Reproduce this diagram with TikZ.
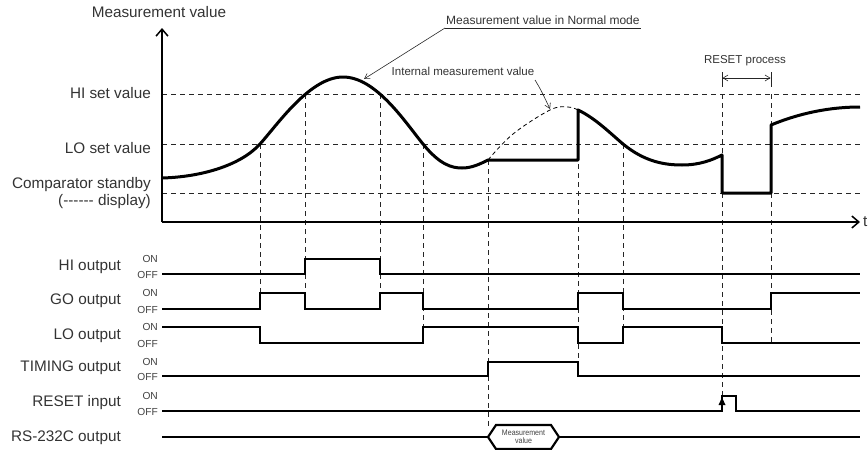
\documentclass[tikz,border=0pt]{standalone}
\usepackage{fontspec}
\setmainfont{Liberation Sans}
\usetikzlibrary{arrows.meta}
\newcommand{\hy}{\mbox{-}}
\begin{document}
\begin{tikzpicture}[x=1pt,y=-1pt,
  lbl/.style={font=\fontsize{15.3}{18}\selectfont, text=black!80, inner sep=0pt},
  rowlbl/.style={lbl, anchor=east},
  onoff/.style={font=\fontsize{10.2}{11}\selectfont, text=black!75, inner sep=0pt, anchor=east},
  note/.style={font=\fontsize{11.5}{13}\selectfont, text=black!80, inner sep=0pt},
  meas/.style={line width=3pt, line join=round},
  sig/.style={line width=2.2pt, line join=miter},
  guide/.style={line width=0.8pt, dash pattern=on 5pt off 4pt, black!85},
  axisarrow/.style={line width=1.8pt, -{Straight Barb[length=7pt,width=12pt,line width=1.5pt]}},
  thinline/.style={line width=0.6pt, black!85},
  thinarrow/.style={thinline, -{Straight Barb[length=5pt,width=6pt,line width=0.6pt]}},
]
\useasboundingbox (0,0) rectangle (868,450);

% ---------- labels of the upper graph
\node[lbl] (ylabel) at (159,12) {Measurement value};
\node[rowlbl] (hiset) at (151,93) {HI set value};
\node[rowlbl] (loset) at (151,148) {LO set value};
\node[rowlbl] (cstby) at (151,185) {Comparator standby};
\node[rowlbl] (cdisp) at (151,202) {(\hy\hy\hy\hy\hy\hy\ display)};
\node[lbl, anchor=west] (tlabel) at (863,222) {t};

% ---------- horizontal guides
\draw[guide] (162,94) -- (860,94);
\draw[guide] (162,144) -- (860,144);
\draw[guide] (162,193) -- (860,193);

% ---------- vertical guides
\draw[guide] (260,144) -- (260,309);
\draw[guide] (305,94) -- (305,309);
\draw[guide] (380,94) -- (380,309);
\draw[guide] (423,144) -- (423,343);
\draw[guide] (488,160) -- (488,428);
\draw[guide] (578,110) -- (578,376);
\draw[guide] (623,144) -- (623,343);
\draw[guide] (722,94) -- (722,398);
\draw[guide] (771,94) -- (771,343);

% ---------- axes
\coordinate (origin) at (162,222);
\coordinate (ytop) at (162,28);
\coordinate (xend) at (860,222);
\draw[axisarrow] (origin) -- (ytop);
\draw[axisarrow] (origin) -- (xend);

% ---------- internal measurement value (dashed)
\draw[line width=0.8pt, dash pattern=on 4pt off 3pt]
  plot[smooth, tension=0.6] coordinates {(488,160) (513,134) (550,110) (568,107) (578,110)};

% ---------- measurement curve
\draw[meas] (162,178) .. controls (200,177) and (240,166) .. (260,144)
  .. controls (278,124) and (310,77) .. (343,77)
  .. controls (376,77) and (405,122) .. (423,144)
  .. controls (440,165) and (452,168) .. (462,168)
  .. controls (472,168) and (480,164) .. (488,160)
  -- (578,160) -- (578,110)
  .. controls (595,118) and (610,133) .. (623,144)
  .. controls (645,162) and (665,165) .. (682,165)
  .. controls (700,165) and (712,160) .. (722,155)
  -- (722,193) -- (771,193) -- (771,125)
  .. controls (800,113) and (830,107) .. (860,107);

% ---------- annotations
\node[note, font=\fontsize{12}{13}\selectfont, anchor=base west] (normnote) at (446,24) {Measurement value in Normal mode};
\coordinate (nl) at (445,28);
\coordinate (nr) at (641,28);
\draw[thinline] (nl) -- (nr);
\draw[thinarrow] (nl) -- (364,79);

\node[note] (intnote) at (463,71) {Internal measurement value};
\draw[thinarrow] (535,80) .. controls (541,90) .. (550,109);

\node[note] (resetnote) at (745,61) {RESET process};
\draw[thinline] (722,72) -- (722,87);
\draw[thinline] (771,72) -- (771,87);
\draw[thinline, {Straight Barb[length=5pt,width=6pt,line width=0.6pt]}-{Straight Barb[length=5pt,width=6pt,line width=0.6pt]}] (722.5,78) -- (770.5,78);

% ---------- timing rows: labels
\node[rowlbl] (hiout) at (121,267) {HI output};
\node[rowlbl] (goout) at (121,301) {GO output};
\node[rowlbl] (loout) at (121,336) {LO output};
\node[rowlbl] (tmout) at (121,368) {TIMING output};
\node[rowlbl] (rsin) at (121,403) {RESET input};
\node[rowlbl] (rsout) at (121,438) {RS-232C output};

\foreach \on/\off/\nm in {259/274/hi, 293/309/go, 327/343/lo, 362/376/tm, 396/411/rs}{
  \node[onoff] (on\nm) at (158,\on) {ON};
  \node[onoff] (off\nm) at (158,\off+1) {OFF};
}

% ---------- timing rows: signals
\draw[sig] (162,274) -- (305,274) -- (305,259) -- (380,259) -- (380,274) -- (860,274);
\draw[sig] (162,309) -- (260,309) -- (260,293) -- (305,293) -- (305,309) -- (380,309) -- (380,293) -- (423,293) -- (423,309) -- (578,309) -- (578,293) -- (623,293) -- (623,309) -- (771,309) -- (771,293) -- (860,293);
\draw[sig] (162,327) -- (260,327) -- (260,343) -- (423,343) -- (423,327) -- (578,327) -- (578,343) -- (623,343) -- (623,327) -- (722,327) -- (722,343) -- (860,343);
\draw[sig] (162,376) -- (488,376) -- (488,362) -- (578,362) -- (578,376) -- (860,376);
\draw[sig] (162,411) -- (722,411) -- (722,396) -- (736,396) -- (736,411) -- (860,411);
\fill (722,397.5) -- (725.5,405) -- (718.5,405) -- cycle;

% ---------- RS-232C output
\draw[sig] (162,437) -- (488,437);
\draw[sig] (488,437) -- (496,425) -- (551,425) -- (559,437) -- (551,449) -- (496,449) -- cycle;
\draw[sig] (559,437) -- (860,437);
\node[font=\fontsize{8}{8.5}\selectfont, text=black!75, align=center, inner sep=0pt] (mvbox) at (523.5,437) {\scalebox{0.88}[1]{Measurement}\\\scalebox{0.88}[1]{value}};
\end{tikzpicture}
\end{document}
